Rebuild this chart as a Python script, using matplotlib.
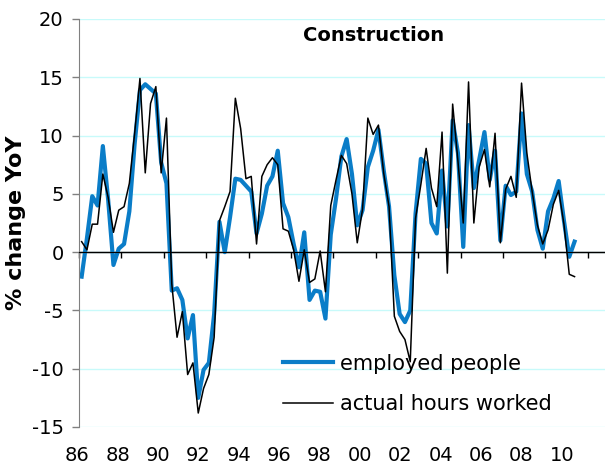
import numpy as np
import matplotlib
matplotlib.use('Agg')
import matplotlib.pyplot as plt

## quarterly YoY % changes, 1986Q1 .. 2009Q2
start_year = 1986
employed = [-2.1, 1.2, 4.8, 4.0, 9.1, 4.5, -1.1, 0.3, 0.7, 3.5,
            9.3, 13.9, 14.4, 14.0, 13.6, 7.7, 5.9, -3.3, -3.1, -4.1,
            -7.4, -5.4, -12.5, -10.1, -9.5, -5.3, 2.6, 0.0, 3.0, 6.3,
            6.2, 5.7, 5.2, 1.6, 3.3, 5.7, 6.5, 8.7, 4.2, 3.0,
            0.7, -1.3, 1.7, -4.1, -3.3, -3.4, -5.7, 1.5, 4.6, 8.2,
            9.7, 6.7, 2.3, 3.6, 7.3, 8.7, 10.5, 7.0, 3.9, -2.0,
            -5.3, -6.0, -5.0, 3.3, 8.0, 7.6, 2.5, 1.6, 7.0, 2.2,
            11.3, 8.5, 0.45, 10.9, 5.5, 7.9, 10.3, 6.2, 8.7, 1.0,
            5.7, 4.9, 5.2, 11.9, 6.7, 5.2, 1.9, 0.3, 3.5, 4.6,
            6.1, 2.7, -0.4, 0.9]
hours = [0.9, 0.2, 2.4, 2.4, 6.7, 4.7, 1.7, 3.6, 3.9, 5.9,
         10.2, 14.9, 6.8, 12.75, 14.2, 6.8, 11.5, -2.7, -7.3, -5.1,
         -10.5, -9.5, -13.8, -11.7, -10.5, -7.3, 2.7, 3.9, 5.2, 13.2,
         10.6, 6.3, 6.5, 0.7, 6.5, 7.5, 8.1, 7.5, 2.0, 1.8,
         0.2, -2.5, 0.2, -2.6, -2.3, 0.1, -3.4, 4.0, 6.2, 8.3,
         7.6, 5.0, 0.8, 3.7, 11.5, 10.1, 10.9, 6.75, 3.9, -5.5,
         -6.8, -7.5, -9.4, 2.9, 5.8, 8.9, 5.5, 3.9, 10.3, -1.8,
         12.7, 7.8, 2.5, 14.6, 2.5, 7.3, 8.8, 5.6, 10.2, 0.8,
         5.4, 6.5, 4.7, 14.5, 8.5, 5.2, 2.3, 0.7, 1.9, 4.1,
         5.3, 2.4, -1.9, -2.1]
year_labels = ['86', '88', '90', '92', '94', '96', '98', '00', '02', '04', '06', '08', '10']
y_ticks = [-15, -10, -5, 0, 5, 10, 15, 20]

x = start_year + (np.arange(len(employed)) + 0.5) / 4.0

fig = plt.figure(figsize=(6.05, 4.70), dpi=100)
ax = fig.add_axes([79/605, 43/470, 526/605, 408/470])

for v in y_ticks:
    ax.axhline(v, color='#c8fafa', lw=1, zorder=0)
ax.axhline(0, color='black', lw=1, zorder=1)

ax.plot(x, employed, color='#0a7dc8', lw=3, label='employed people', zorder=2)
ax.plot(x, hours, color='black', lw=1.1, label='actual hours worked', zorder=3)

ax.set_xlim(start_year, start_year + 526/21.2)
ax.set_ylim(-15, 20)
ax.set_yticks(y_ticks)
ax.set_yticklabels([str(v) for v in y_ticks], fontsize=14)
ax.tick_params(axis='y', direction='out', length=5, width=1, color='#808080', pad=6)

## x ticks sit on the zero line, labels go under the plot
ax.spines['bottom'].set_position(('data', 0))
ax.spines['bottom'].set_color('black')
ax.spines['top'].set_visible(False)
ax.spines['right'].set_visible(False)
ax.spines['left'].set_color('#808080')
ax.set_xticks(np.arange(start_year, 2011, 2))
ax.set_xticklabels([])
ax.tick_params(axis='x', direction='out', length=4, width=1, color='black')

for k, lab in enumerate(year_labels):
    ax.text((77.5 + 40.35*k - 79) / 526, -0.07, lab, transform=ax.transAxes,
            ha='center', va='center', fontsize=14)

ax.set_ylabel('% change YoY', fontsize=16, fontweight='bold', labelpad=4)
ax.text(0.56, 0.96, 'Construction', transform=ax.transAxes, ha='center', va='center',
        fontsize=14, fontweight='bold')

ax.legend(loc='lower left', bbox_to_anchor=(0.353, -0.015), frameon=False, fontsize=15,
          handlelength=2.4, labelspacing=1.0, handletextpad=0.3)

fig.savefig('out.png', dpi=100)
